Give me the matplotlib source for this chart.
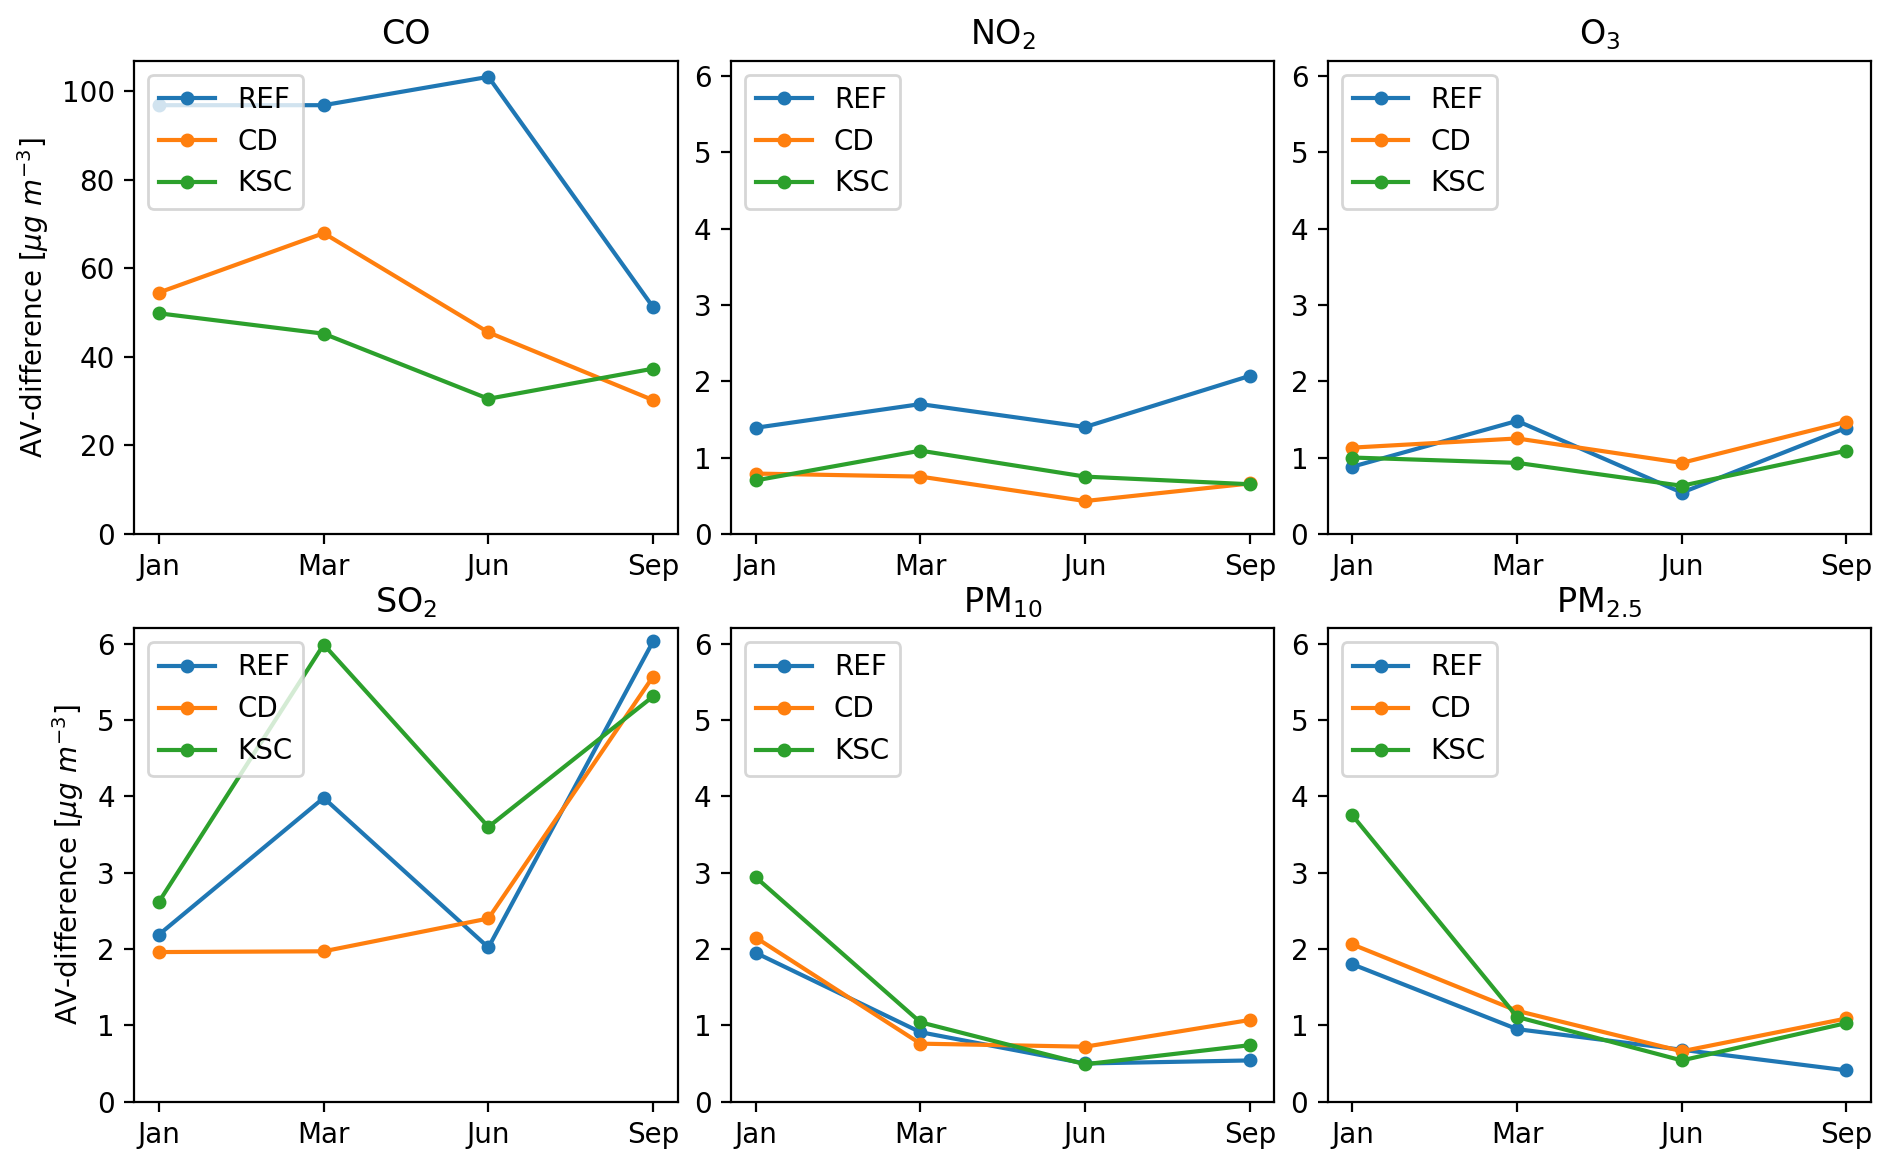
import matplotlib
matplotlib.use("Agg")
import matplotlib.pyplot as plt

# months on the x axis
months = ["Jan", "Mar", "Jun", "Sep"]
models = ["REF", "CD", "KSC"]

# AV-difference values (REF, CD, KSC per pollutant)
co_ref = [96.8, 96.8, 103.2, 51.2]
co_cd = [54.5, 67.9, 45.5, 30.2]
co_ksc = [49.8, 45.2, 30.5, 37.3]

no2_ref = [1.39, 1.70, 1.40, 2.07]
no2_cd = [0.79, 0.75, 0.43, 0.66]
no2_ksc = [0.70, 1.09, 0.75, 0.65]

o3_ref = [0.88, 1.48, 0.54, 1.39]
o3_cd = [1.13, 1.25, 0.93, 1.47]
o3_ksc = [1.00, 0.93, 0.63, 1.09]

so2_ref = [2.19, 3.98, 2.02, 6.03]
so2_cd = [1.96, 1.97, 2.40, 5.57]
so2_ksc = [2.62, 5.99, 3.60, 5.31]

pm10_ref = [1.95, 0.91, 0.50, 0.54]
pm10_cd = [2.15, 0.76, 0.72, 1.07]
pm10_ksc = [2.94, 1.04, 0.49, 0.74]

pm25_ref = [1.80, 0.95, 0.68, 0.41]
pm25_cd = [2.06, 1.19, 0.66, 1.09]
pm25_ksc = [3.75, 1.11, 0.54, 1.03]

titles = ["CO", "NO$_2$", "O$_3$", "SO$_2$", "PM$_{10}$", "PM$_{2.5}$"]
series = [
    (co_ref, co_cd, co_ksc),
    (no2_ref, no2_cd, no2_ksc),
    (o3_ref, o3_cd, o3_ksc),
    (so2_ref, so2_cd, so2_ksc),
    (pm10_ref, pm10_cd, pm10_ksc),
    (pm25_ref, pm25_cd, pm25_ksc),
]

fig, axes = plt.subplots(2, 3, figsize=(1892 / 200, 1167 / 200), dpi=200)
x = list(range(len(months)))

for i, ax in enumerate(axes.flat):
    for vals, name in zip(series[i], models):
        ax.plot(x, vals, marker="o", markersize=4, label=name)
    ax.set_title(titles[i])
    ax.set_xticks(x)
    ax.set_xticklabels(months)
    if i == 0:
        ax.set_ylim(bottom=0)
    else:
        ax.set_ylim(0, 6.2)
    ax.legend(loc="upper left")
    if i % 3 == 0:
        ax.set_ylabel(r"AV-difference [$\mu g\ m^{-3}$]")

plt.subplots_adjust(left=0.071, right=0.989, top=0.948, bottom=0.056,
                    wspace=0.098, hspace=0.2)
plt.savefig("out.png", dpi=200)
